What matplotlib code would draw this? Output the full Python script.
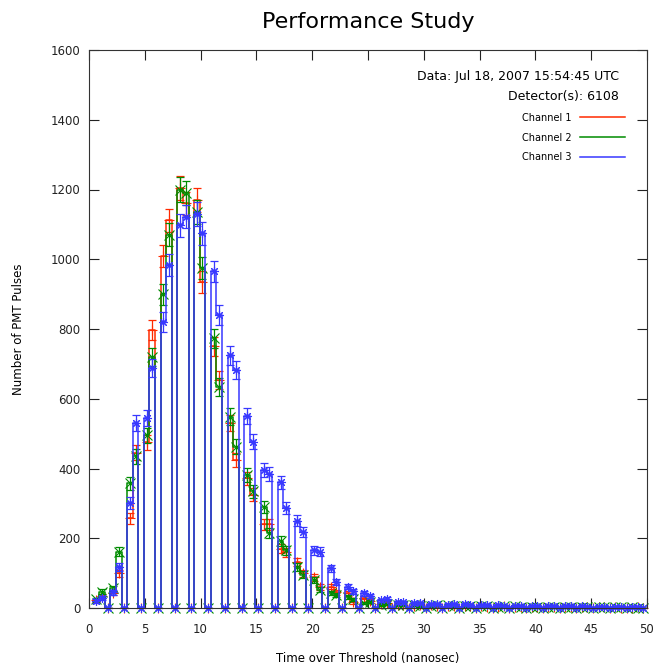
### Performance Study - PMT time over threshold
import numpy as np
import matplotlib
matplotlib.use("Agg")
import matplotlib.pyplot as plt

# bin centres (ns), 0.5 ns bins; every third bin is empty
tot = 1.0 / 6.0 + 0.5 * np.arange(1, 100)

# counts per bin (empty bins = 0)
ch1 = [
    22, 33, 0, 43, 100, 0, 257, 445, 0, 475, 797, 0,
    1010, 1112, 0, 1205, 1160, 0, 1170, 935, 0, 750, 654, 0,
    530, 425, 0, 372, 325, 0, 240, 240, 0, 170, 160, 0,
    133, 100, 0, 88, 60, 0, 61, 45, 0, 42, 16, 0,
    30, 20, 0, 12, 15, 0, 10, 8, 0, 7, 9, 0,
    8, 6, 0, 6, 7, 0, 5, 6, 0, 5, 4, 0,
    4, 5, 0, 4, 3, 0, 3, 4, 0, 3, 3, 0,
    3, 2, 0, 2, 3, 0, 2, 2, 0, 2, 1, 0,
    1, 2, 0,
]
ch2 = [
    25, 47, 0, 56, 161, 0, 357, 435, 0, 495, 720, 0,
    900, 1070, 0, 1200, 1189, 0, 1136, 975, 0, 773, 633, 0,
    549, 462, 0, 381, 335, 0, 290, 215, 0, 192, 165, 0,
    118, 95, 0, 80, 52, 0, 43, 38, 0, 32, 25, 0,
    14, 18, 0, 10, 12, 0, 8, 10, 0, 9, 6, 0,
    6, 8, 0, 8, 5, 0, 7, 5, 0, 5, 6, 0,
    4, 5, 0, 5, 3, 0, 3, 4, 0, 4, 2, 0,
    3, 3, 0, 2, 3, 0, 3, 2, 0, 2, 2, 0,
    2, 1, 0,
]
ch3 = [
    20, 28, 0, 45, 118, 0, 301, 530, 0, 544, 688, 0,
    820, 983, 0, 1098, 1122, 0, 1130, 1074, 0, 965, 840, 0,
    725, 682, 0, 550, 477, 0, 395, 385, 0, 360, 286, 0,
    250, 217, 0, 165, 162, 0, 114, 75, 0, 61, 48, 0,
    42, 35, 0, 22, 27, 0, 17, 16, 0, 13, 14, 0,
    12, 11, 0, 10, 12, 0, 11, 9, 0, 9, 8, 0,
    8, 7, 0, 7, 6, 0, 6, 6, 0, 5, 6, 0,
    5, 5, 0, 5, 4, 0, 4, 4, 0, 4, 3, 0,
    3, 3, 0,
]

labels = ["Channel 1", "Channel 2", "Channel 3"]
colors = ["#ff2a00", "#008c00", "#3838ff"]
markers = ["+", "x", (8, 2, 0)]

fig = plt.figure(figsize=(6.57, 6.69), dpi=100)
ax = fig.add_axes([89 / 657, 61 / 669, 558 / 657, 558 / 669])

for y, lab, col, mk in zip([ch1, ch2, ch3], labels, colors, markers):
    y = np.array(y, dtype=float)
    ax.step(tot, y, where="mid", color=col, lw=1.1, label=lab)
    ax.errorbar(tot, y, yerr=np.sqrt(y), fmt="none", ecolor=col,
                elinewidth=0.9, capsize=3, capthick=0.9)
    ax.plot(tot, y, ls="none", marker=mk, color=col, ms=6.5, mew=0.8,
            clip_on=False)

ax.set_xlim(0, 50)
ax.set_ylim(0, 1600)
ax.set_xticks(np.arange(0, 51, 5))
ax.set_yticks(np.arange(0, 1601, 200))
ax.tick_params(direction="in", length=7, width=0.8, top=True, right=True,
               labelsize=8.5, colors="#222222")
ax.tick_params(axis="x", pad=11)
ax.tick_params(axis="y", pad=6)
for s in ax.spines.values():
    s.set_linewidth(0.8)
    s.set_color("#333333")

ax.set_title("Performance Study", fontsize=16, pad=16)
ax.set_xlabel("Time over Threshold (nanosec)", fontsize=8.5, labelpad=11)
ax.set_ylabel("Number of PMT Pulses", fontsize=8.5, labelpad=19)

ax.text(0.950, 0.952, "Data: Jul 18, 2007 15:54:45 UTC", transform=ax.transAxes,
        ha="right", va="center", fontsize=9)
ax.text(0.950, 0.916, "Detector(s): 6108", transform=ax.transAxes,
        ha="right", va="center", fontsize=9)

ax.legend(loc="upper right", bbox_to_anchor=(0.976, 0.903), frameon=False,
          markerfirst=False, fontsize=7, handlelength=4.6, labelspacing=1.0,
          handletextpad=0.9)

fig.savefig("out.png", dpi=100)
